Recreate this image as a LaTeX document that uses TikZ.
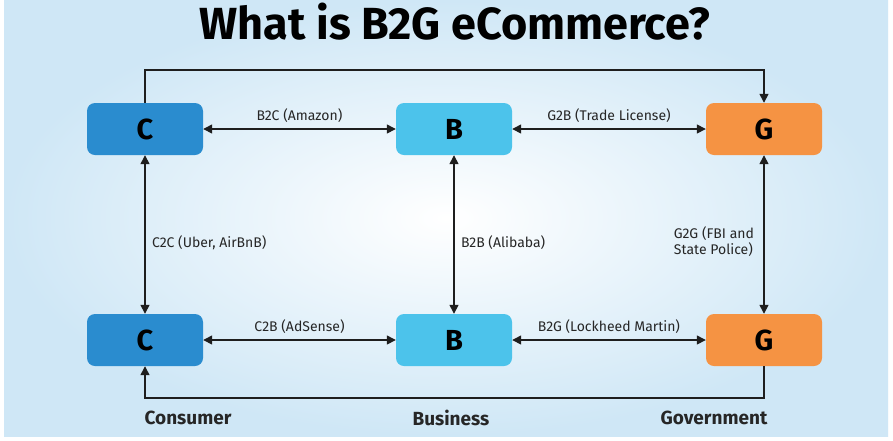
\documentclass[tikz,border=0pt]{standalone}
\usepackage{fontspec}
\setmainfont{Fira Sans}
\usetikzlibrary{arrows.meta}
\definecolor{cblue}{HTML}{2A8CCF}
\definecolor{bblue}{HTML}{4CC3EB}
\definecolor{gorange}{HTML}{F59343}
\definecolor{bgblue}{HTML}{CFE7F6}
\definecolor{linec}{HTML}{1E1E1E}
\begin{document}
\begin{tikzpicture}[x=1pt,y=-1pt,
  box/.style={rounded corners=8pt,minimum width=116pt,minimum height=52pt,inner sep=0pt,font=\fontsize{29}{30}\selectfont\bfseries,text=black},
  conn/.style={draw=linec,line width=1.4pt,{Triangle[length=9pt,width=9pt]}-{Triangle[length=9pt,width=9pt]}},
  oneway/.style={draw=linec,line width=1.4pt,-{Triangle[length=9pt,width=9pt]}},
  lab/.style={font=\fontsize{14}{16}\selectfont,text=black!85},
  side/.style={font=\fontsize{19}{21}\selectfont\bfseries,text=black!85}]
\useasboundingbox (0,0) rectangle (893,440);
\fill[white] (0,0) rectangle (893,440);
\shade[inner color=white,outer color=bgblue,shading=radial] (4,0) rectangle (888,436);
\node[font=\fontsize{45}{48}\selectfont\bfseries] (title) at (455,22) {What is B2G eCommerce?};
\node[box,fill=cblue] (c1) at (145,129) {C};
\node[box,fill=bblue] (b1) at (454,129) {B};
\node[box,fill=gorange] (g1) at (764,129) {G};
\node[box,fill=cblue] (c2) at (145,340) {C};
\node[box,fill=bblue] (b2) at (454,340) {B};
\node[box,fill=gorange] (g2) at (764,340) {G};
\draw[conn] (c1) -- node[lab,above=2pt] {B2C (Amazon)} (b1);
\draw[conn] (b1) -- node[lab,above=2pt] {G2B (Trade License)} (g1);
\draw[conn] (c2) -- node[lab,above=2pt] {C2B (AdSense)} (b2);
\draw[conn] (b2) -- node[lab,above=2pt] {B2G (Lockheed Martin)} (g2);
\draw[conn] (c1) -- node[lab,right=3pt,pos=0.55] {C2C (Uber, AirBnB)} (c2);
\draw[conn] (b1) -- node[lab,right=3pt,pos=0.55] {B2B (Alibaba)} (b2);
\draw[conn] (g1) -- node[lab,left=6pt,pos=0.5,align=left,yshift=-7pt] {G2G (FBI and\\State Police)} (g2);
\coordinate (t1) at (145,70);
\coordinate (t2) at (764,70);
\coordinate (u1) at (764,398);
\coordinate (u2) at (145,398);
\draw[oneway] (c1.north) |- (t1) -- (t2) -- (g1.north);
\draw[oneway] (g2.south) -- (u1) -- (u2) -- (c2.south);
\node[side] (cons) at (188,418) {Consumer};
\node[side] (bus) at (451,418) {Business};
\node[side] (gov) at (714,418) {Government};
\end{tikzpicture}
\end{document}
